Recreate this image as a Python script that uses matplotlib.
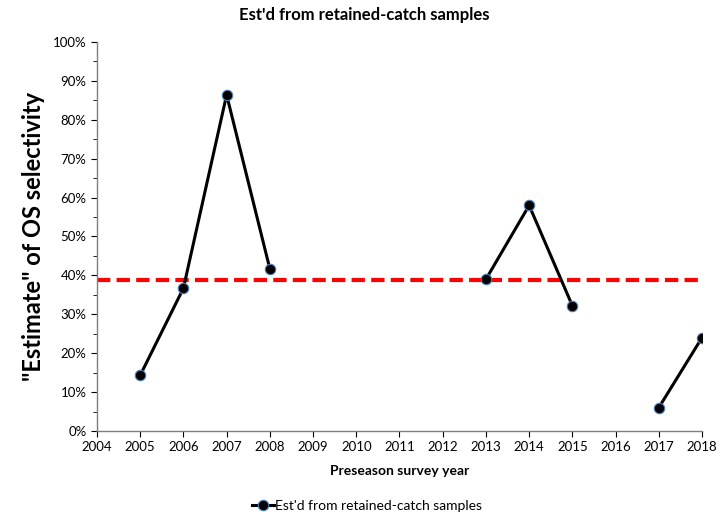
import numpy as np
import matplotlib
matplotlib.use("Agg")
import matplotlib.pyplot as plt
from matplotlib.ticker import MultipleLocator, PercentFormatter

plt.rcParams['font.family'] = ['Lato', 'DejaVu Sans']

# data
years = [2005, 2006, 2007, 2008, 2009, 2010, 2011, 2012, 2013, 2014, 2015, 2016, 2017, 2018]
selectivity = [14.3, 36.7, 86.4, 41.7, np.nan, np.nan, np.nan, np.nan, 39.0, 58.0, 32.2, np.nan, 6.0, 24.0]
mean_level = 38.7
series_name = "Est'd from retained-catch samples"

fig = plt.figure(figsize=(7.22, 5.12), dpi=100)
ax = fig.add_axes([0.1343, 0.1582, 0.8380, 0.7598])

ax.plot([2004, 2018], [mean_level, mean_level], color='#ff0000', lw=3,
        dashes=(3.2, 1.5), zorder=2)
ax.plot(years, selectivity, color='black', lw=2.2, marker='o', ms=7.5,
        mfc='black', mec='#4a7ebb', mew=0.8, label=series_name, zorder=3)

ax.set_xlim(2004, 2018)
ax.set_ylim(0, 100)
ax.xaxis.set_major_locator(MultipleLocator(1))
ax.yaxis.set_major_locator(MultipleLocator(10))
ax.yaxis.set_minor_locator(MultipleLocator(5))
ax.yaxis.set_major_formatter(PercentFormatter(decimals=0))

for s in ['top', 'right']:
    ax.spines[s].set_visible(False)
for s in ['left', 'bottom']:
    ax.spines[s].set_color('#7f7f7f')
    ax.spines[s].set_linewidth(1)
ax.tick_params(axis='both', which='both', direction='out', color='black',
               labelsize=9.5, labelcolor='black')
ax.tick_params(axis='both', which='major', length=4)
ax.tick_params(axis='y', which='minor', length=3)

fig.text(0.504, 1 - 15 / 512, series_name, fontsize=12, fontweight='bold',
         ha='center', va='center')
ax.set_xlabel('Preseason survey year', fontsize=10, fontweight='bold', labelpad=8)
ax.set_ylabel('"Estimate" of OS selectivity', fontsize=17, fontweight='bold', labelpad=6)

ax.legend(loc='upper center', bbox_to_anchor=(0.446, -0.145), frameon=False,
          fontsize=10, handlelength=1.6, handletextpad=0.1)

fig.savefig('out.png', dpi=100)
